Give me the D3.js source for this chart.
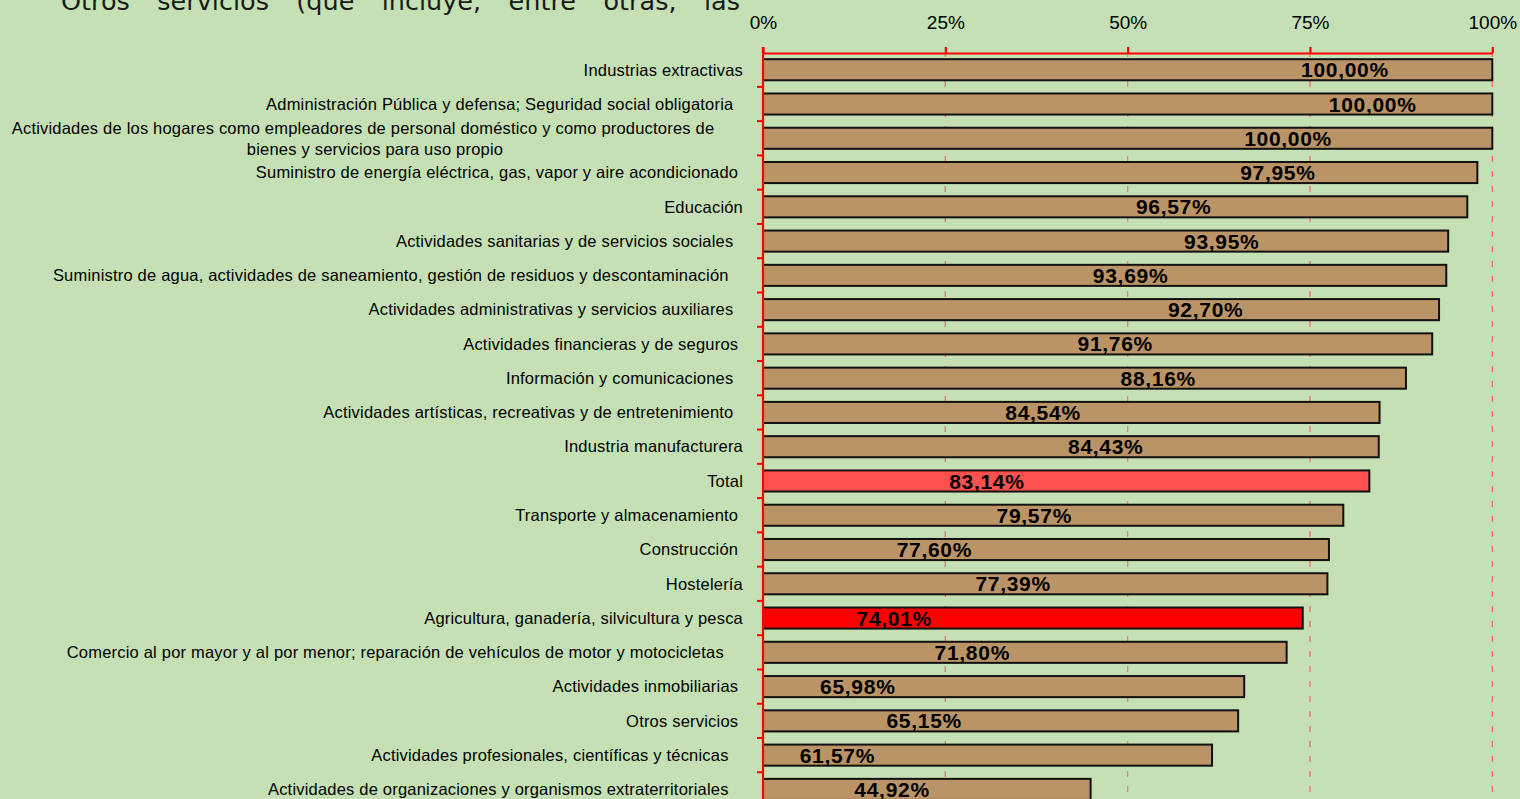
<!DOCTYPE html>
<html><head><meta charset="utf-8">
<script src="https://cdn.jsdelivr.net/npm/d3@7"></script>
<style>
html,body{margin:0;padding:0;background:#C5E0B4;overflow:hidden;}
svg{display:block;}
.cat{white-space:pre;}
</style></head>
<body>
<svg id="chart" width="1520" height="799"></svg>
<script>
// ---- data ----
const titleText = "Otros servicios (que incluye, entre otras, las";
const categories = [
  "Industrias extractivas",
  "Administración Pública y defensa; Seguridad social obligatoria  ",
  "Actividades de los hogares como empleadores de personal doméstico y como productores de\nbienes y servicios para uso propio",
  "Suministro de energía eléctrica, gas, vapor y aire acondicionado ",
  "Educación",
  "Actividades sanitarias y de servicios sociales  ",
  "Suministro de agua, actividades de saneamiento, gestión de residuos y descontaminación   ",
  "Actividades administrativas y servicios auxiliares  ",
  "Actividades financieras y de seguros ",
  "Información y comunicaciones  ",
  "Actividades artísticas, recreativas y de entretenimiento  ",
  "Industria manufacturera",
  "Total",
  "Transporte y almacenamiento ",
  "Construcción ",
  "Hostelería",
  "Agricultura, ganadería, silvicultura y pesca",
  "Comercio al por mayor y al por menor; reparación de vehículos de motor y motocicletas    ",
  "Actividades inmobiliarias ",
  "Otros servicios ",
  "Actividades profesionales, científicas y técnicas   ",
  "Actividades de organizaciones y organismos extraterritoriales   "
];
const values = [100.00,100.00,100.00,97.95,96.57,93.95,93.69,92.70,91.76,88.16,84.54,84.43,83.14,79.57,77.60,77.39,74.01,71.80,65.98,65.15,61.57,44.92];
// where each value label sits, in data units (percent)
const labelAnchor = [79.8,83.6,72.0,70.6,56.3,62.9,50.4,60.7,48.3,54.2,38.4,47.0,30.7,37.2,23.5,34.3,18.0,28.7,13.0,22.1,10.2,17.7];
const highlight = {"Total":"total","Agricultura, ganadería, silvicultura y pesca":"agri"};
const tickValues = [0,25,50,75,100];
const tickLabels = ["0%","25%","50%","75%","100%"];

// ---- drawing ----
const svg = d3.select("#chart");
const W = 1520, H = 799;
const x = d3.scaleLinear().domain([0,100]).range([763,1492.3]);
const p = 0.385;
const y = d3.scaleBand().domain(categories).range([52.6, 52.6 + 34.27*categories.length]).paddingInner(p).paddingOuter(p/2);
const step = y.step();

const fmt = v => v.toFixed(2).replace(".", ",") + "%";

// title (justified words, partly cut off at top)
const words = titleText.split(" ");
const tg = svg.append("g");
const wEls = words.map(w => tg.append("text").text(w)
  .attr("y", 9.5).attr("font-family","DejaVu Sans").attr("font-size",25.5).attr("fill","#1a1a1a"));
const widths = wEls.map(t => t.node().getComputedTextLength());
const x0 = 61, x1 = 740;
const gap = (x1 - x0 - d3.sum(widths)) / (words.length - 1);
let cx = x0;
wEls.forEach((t,i) => { t.attr("x", cx); cx += widths[i] + gap; });

// gridlines
svg.append("g").selectAll("line").data(tickValues.filter(v => v > 0)).join("line")
  .attr("x1", d => x(d)).attr("x2", d => x(d))
  .attr("y1", 53).attr("y2", H)
  .attr("stroke", d => d === 50 ? "#D98A7E" : "#F06A6A").attr("stroke-width", 1.3)
  .attr("stroke-dasharray", "6,9").attr("stroke-dashoffset", 2);

// bars
const fillFor = c => highlight[c] === "total" ? "#FF5050" : highlight[c] === "agri" ? "#FF0000" : "#BA9466";
svg.append("g").selectAll("rect").data(categories).join("rect")
  .attr("x", x(0))
  .attr("y", c => y(c))
  .attr("width", (c,i) => x(values[i]) - x(0))
  .attr("height", y.bandwidth())
  .attr("fill", fillFor)
  .attr("stroke", "#111").attr("stroke-width", 2);

// value labels
svg.append("g").selectAll("text").data(categories).join("text")
  .attr("x", (c,i) => x(labelAnchor[i]))
  .attr("y", c => y(c) + y.bandwidth()/2)
  .attr("dy", "0.36em")
  .attr("text-anchor", "middle")
  .attr("font-family", "Liberation Sans, Arial, sans-serif")
  .attr("font-weight", "bold").attr("font-size", 21)
  .attr("letter-spacing", 0.7)
  .attr("fill", "#000")
  .text((c,i) => fmt(values[i]));

// category labels
const catG = svg.append("g");
const wrapCenters = [363, 375];
categories.forEach(c => {
  const lines = c.split("\n");
  const cy = y(c) + y.bandwidth()/2;
  if (lines.length === 1) {
    catG.append("text").attr("class","cat")
      .attr("x", 743).attr("y", cy).attr("dy","0.35em")
      .attr("text-anchor","end")
      .attr("font-family","Liberation Sans, Arial, sans-serif").attr("font-size",16.5)
      .attr("letter-spacing",0.2)
      .attr("fill","#000").text(c);
  } else {
    lines.forEach((ln,j) => {
      catG.append("text").attr("class","cat")
        .attr("x", wrapCenters[j]).attr("y", cy + (j - (lines.length-1)/2)*21).attr("dy","0.35em")
        .attr("text-anchor","middle")
        .attr("font-family","Liberation Sans, Arial, sans-serif").attr("font-size",16.5)
        .attr("letter-spacing",0.2)
        .attr("fill","#000").text(ln);
    });
  }
});

// top axis
const xAxis = d3.axisTop(x).tickValues(tickValues).tickSize(6).tickSizeOuter(0)
  .tickFormat((d,i) => tickLabels[i]);
const ax = svg.append("g").attr("transform","translate(0,53)").call(xAxis);
ax.select(".domain").attr("stroke","#FF0000").attr("stroke-width",2.2);
ax.selectAll(".tick line").attr("stroke","#FF0000").attr("stroke-width",2.2);
ax.selectAll(".tick text").attr("font-family","Liberation Sans, Arial, sans-serif")
  .attr("font-size",19).attr("fill","#000").attr("y",-24);

// left axis (category boundaries)
const edges = categories.map(c => y(c) - step*p/2).concat([y(categories[categories.length-1]) + y.bandwidth() + step*p/2]);
svg.append("line").attr("x1", x(0)).attr("x2", x(0)).attr("y1", 47).attr("y2", H)
  .attr("stroke","#FF0000").attr("stroke-width",2.2);
svg.append("g").selectAll("line").data(edges.slice(1)).join("line")
  .attr("x1", x(0) - 6).attr("x2", x(0)).attr("y1", d => d).attr("y2", d => d)
  .attr("stroke","#FF0000").attr("stroke-width",2);
</script>
</body></html>
